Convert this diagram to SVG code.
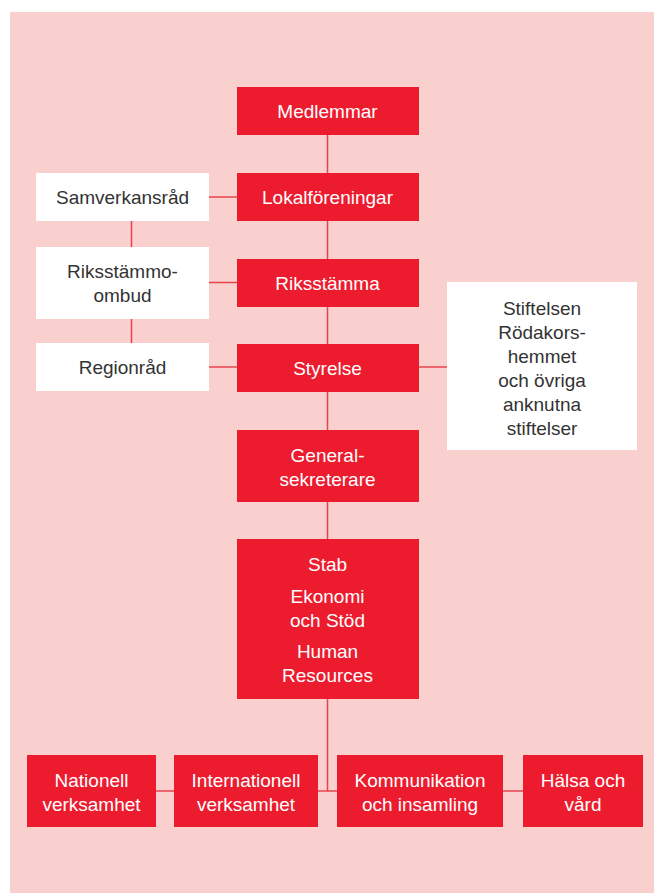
<svg xmlns="http://www.w3.org/2000/svg" width="654" height="894" viewBox="0 0 654 894">
<style>
.red{fill:#ED1B2E}
.wht{fill:#FFFFFF}
text{font-family:"Liberation Sans",Arial,sans-serif;font-size:19px;text-anchor:middle}
.tw{fill:#FFFFFF}
.td{fill:#333333}
.conn line{stroke:#E8424F;stroke-width:1.5;fill:none}
</style>
<rect x="0" y="0" width="654" height="894" fill="#FFFFFF"/>
<rect x="10" y="12" width="644" height="881" fill="#F9D0CE"/>
<g id="connectors" class="conn">
<line x1="327.5" y1="134" x2="327.5" y2="791"/>
<line x1="208" y1="197" x2="237" y2="197"/>
<line x1="208" y1="282.5" x2="237" y2="282.5"/>
<line x1="208" y1="367" x2="237" y2="367"/>
<line x1="418" y1="367" x2="447" y2="367"/>
<line x1="131.5" y1="220" x2="131.5" y2="343"/>
<line x1="155" y1="791" x2="523" y2="791"/>
</g>
<g id="medlemmar"><rect class="red" x="237" y="87" width="182" height="48"/><text class="tw" x="327.5" y="118">Medlemmar</text></g>
<g id="lokalforeningar"><rect class="red" x="237" y="173" width="182" height="48"/><text class="tw" x="327.5" y="204">Lokalföreningar</text></g>
<g id="riksstamma"><rect class="red" x="237" y="259" width="182" height="48"/><text class="tw" x="327.5" y="289.5">Riksstämma</text></g>
<g id="styrelse"><rect class="red" x="237" y="344" width="182" height="48"/><text class="tw" x="327.5" y="375">Styrelse</text></g>
<g id="generalsekreterare"><rect class="red" x="237" y="430" width="182" height="72"/><text class="tw" x="327.5" y="461.5">General-</text><text class="tw" x="327.5" y="485.5">sekreterare</text></g>
<g id="stab"><rect class="red" x="237" y="539" width="182" height="160"/><text class="tw" x="327.5" y="570.5">Stab</text><text class="tw" x="327.5" y="603">Ekonomi</text><text class="tw" x="327.5" y="626.5">och Stöd</text><text class="tw" x="327.5" y="658">Human</text><text class="tw" x="327.5" y="681.5">Resources</text></g>
<g id="samverkansrad"><rect class="wht" x="36" y="173" width="173" height="48"/><text class="td" x="122.5" y="204">Samverkansråd</text></g>
<g id="riksstammoombud"><rect class="wht" x="36" y="247" width="173" height="72"/><text class="td" x="122.5" y="278">Riksstämmo-</text><text class="td" x="122.5" y="301.5">ombud</text></g>
<g id="regionrad"><rect class="wht" x="36" y="343" width="173" height="48"/><text class="td" x="122.5" y="374">Regionråd</text></g>
<g id="stiftelsen"><rect class="wht" x="447" y="282" width="190" height="168"/><text class="td" x="542" y="315">Stiftelsen</text><text class="td" x="542" y="339">Rödakors-</text><text class="td" x="542" y="363">hemmet</text><text class="td" x="542" y="387">och övriga</text><text class="td" x="542" y="411">anknutna</text><text class="td" x="542" y="435">stiftelser</text></g>
<g id="nationell"><rect class="red" x="27" y="755" width="129" height="72"/><text class="tw" x="91.5" y="787">Nationell</text><text class="tw" x="91.5" y="810.5">verksamhet</text></g>
<g id="internationell"><rect class="red" x="174" y="755" width="144" height="72"/><text class="tw" x="246" y="787">Internationell</text><text class="tw" x="246" y="810.5">verksamhet</text></g>
<g id="kommunikation"><rect class="red" x="337" y="755" width="166" height="72"/><text class="tw" x="420" y="787">Kommunikation</text><text class="tw" x="420" y="810.5">och insamling</text></g>
<g id="halsa"><rect class="red" x="523" y="755" width="120" height="72"/><text class="tw" x="583" y="787">Hälsa och</text><text class="tw" x="583" y="810.5">vård</text></g>
</svg>
